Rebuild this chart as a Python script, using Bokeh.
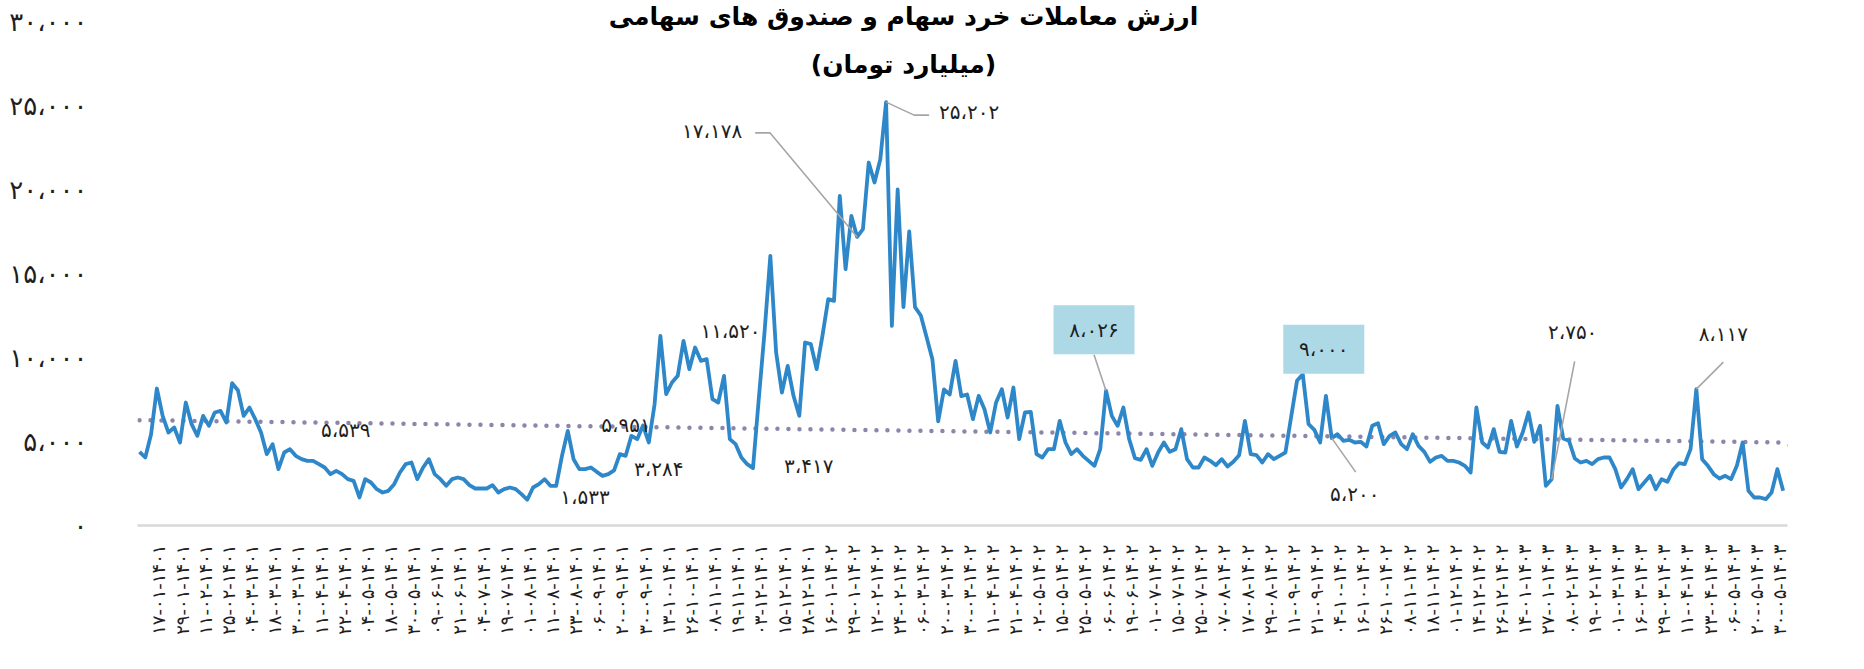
import math
from bokeh.plotting import figure
from bokeh.models import Range1d, FixedTicker, Label
from bokeh.embed import file_html
from bokeh.resources import INLINE

# ---------------- data ----------------
title_line1 = "ارزش معاملات خرد سهام و صندوق های سهامی"
title_line2 = "(میلیارد تومان)"

dates = [
    "1401-01-06", "1401-01-17", "1401-01-29", "1401-02-11", "1401-02-25", "1401-03-04",
    "1401-03-18", "1401-03-30", "1401-04-11", "1401-04-22", "1401-05-04", "1401-05-18",
    "1401-05-30", "1401-06-09", "1401-06-21", "1401-07-04", "1401-07-19", "1401-08-01",
    "1401-08-11", "1401-08-23", "1401-09-06", "1401-09-20", "1401-09-30", "1401-10-13",
    "1401-10-26", "1401-11-08", "1401-11-19", "1401-12-03", "1401-12-15", "1401-12-28",
    "1402-01-16", "1402-01-29", "1402-02-12", "1402-02-24", "1402-03-06", "1402-03-20",
    "1402-03-30", "1402-04-11", "1402-04-21", "1402-05-02", "1402-05-15", "1402-05-25",
    "1402-06-06", "1402-06-19", "1402-07-01", "1402-07-15", "1402-07-25", "1402-08-07",
    "1402-08-17", "1402-08-29", "1402-09-11", "1402-09-21", "1402-10-04", "1402-10-16",
    "1402-10-26", "1402-11-08", "1402-11-18", "1402-12-01", "1402-12-14", "1402-12-26",
    "1403-01-14", "1403-01-27", "1403-02-08", "1403-02-19", "1403-03-01", "1403-03-16",
    "1403-03-29", "1403-04-11", "1403-04-23", "1403-05-06", "1403-05-20", "1403-05-30",
]

values_1401a = [
    4385, 4047, 5436, 8154, 6527, 5535, 5833, 4940, 7321, 6031, 5337, 6527,
    5932, 6726, 6825, 6130, 8472, 8055, 6527, 7023, 6329, 5539, 4246, 4841,
    3353, 4345, 4543, 4147, 3948, 3849, 3849, 3651, 3452, 3055, 3254, 3055,
    2758, 2659, 1667, 2758, 2559, 2163, 1964, 2063, 2460, 3155, 3651, 3750,
    2758, 3452, 3948, 3055, 2758, 2361, 2758, 2857, 2758, 2401, 2202, 2202,
    2202, 2401, 1964, 2163, 2262, 2163, 1865, 1533, 2262, 2460, 2758, 2361,
]
values_1401b = [
    2361, 4147, 5635, 3948, 3353, 3353, 3452, 3194, 2956, 3055, 3284, 4246,
    4147, 5337, 5139, 5951, 4940, 7222, 11289, 7817, 8511, 8908, 10991, 9305,
    10595, 9801, 9900, 7519, 7321, 8908, 5139, 4841, 4047, 3651, 3417, 7519,
    11520, 16051, 10297, 7916, 9503, 7718, 6527, 10892, 10793, 9305, 11289, 13471,
    13372, 19622, 15257, 18431, 17178, 17638, 21606, 20415, 21804, 25202, 11884, 20000,
    13000, 17500, 13000, 12500, 11200, 9900, 6200, 8100, 7800, 9800, 7700, 7800,
]
values_1402 = [
    6329, 7718, 6924, 5535, 7321, 8115, 6428, 8214, 5139, 6726, 6765, 4246,
    4047, 4543, 4543, 6230, 4940, 4246, 4543, 4147, 3849, 3551, 4543, 8026,
    6527, 5932, 7023, 5139, 4008, 3909, 4543, 3551, 4345, 4940, 4385, 4543,
    5734, 3948, 3452, 3452, 4047, 3849, 3591, 3948, 3512, 3790, 4186, 6230,
    4246, 4186, 3750, 4246, 3948, 4147, 4345, 6488, 8611, 9000, 6031, 5694,
    4940, 7718, 5200, 5436, 5039, 5099, 4940, 4980, 4702, 5932, 6091, 4841,
    5337,
]
values_1403 = [
    5535, 4841, 4543, 5436, 4742, 4385, 3790, 4047, 4147, 3849, 3849, 3750,
    3551, 3155, 7023, 4940, 4643, 5734, 4385, 4345, 6230, 4702, 5535, 6726,
    4980, 5932, 2361, 2750, 7123, 5178, 5039, 3988, 3750, 3849, 3651, 3948,
    4047, 4047, 3353, 2262, 2758, 3353, 2163, 2559, 2956, 2163, 2758, 2599,
    3313, 3710, 3651, 4543, 8117, 3948, 3551, 3055, 2797, 2956, 2758, 3551,
    4940, 2063, 1667, 1667, 1567, 1964, 3353, 2075,
]
values = values_1401a + values_1401b + values_1402 + values_1403

trend_values = [6270, 4940]          # linear trend, first and last point
y_ticks = [0, 5000, 10000, 15000, 20000, 25000, 30000]

labelled_points = [129, 124, 108, 106, 82, 67, 21, 87, 206, 244, 269, 284]
boxed_points = [167, 201]

# ---------------- layout ----------------
FIG_W, FIG_H = 1848, 653
B_LEFT, B_RIGHT, B_BOTTOM = 137, 61, 128
FRAME_W = FIG_W - B_LEFT - B_RIGHT
FRAME_H = FIG_H - B_BOTTOM
TICK_PX = 23.15                 # px between category labels
TICK0_FX = 135.3                # fig-x of first label
PTS_PER_TICK = 4
FIRST_PT_FX = 139.0

x_start = (B_LEFT - TICK0_FX) / TICK_PX
x_end = x_start + FRAME_W / TICK_PX
y_start, y_end = 0, 31250
UPP = (y_end - y_start) / FRAME_H   # data units per px (y)

def to_screen(x, y):
    return B_LEFT + (x - x_start) * TICK_PX, (y_end - y) / UPP

def to_data(fx, fy):
    return x_start + (fx - B_LEFT) / TICK_PX, y_end - fy * UPP

x_first = (FIRST_PT_FX - TICK0_FX) / TICK_PX
xs = [x_first + i / PTS_PER_TICK for i in range(len(values))]

FA = str.maketrans("0123456789,", "۰۱۲۳۴۵۶۷۸۹،")
def fa(s):
    return str(s).translate(FA)

def fa_num(v):
    return fa(f"{v:,}")

def date_label(d):
    yy, mm, dd = d.split("-")
    return fa(f"{dd}-{mm}-{yy}")

FONT = "DejaVu Sans"
TXT = "#1e1e1e"

p = figure(width=FIG_W, height=FIG_H, output_backend="svg", toolbar_location=None,
           x_range=Range1d(x_start, x_end), y_range=Range1d(y_start, y_end),
           min_border_left=B_LEFT, min_border_right=B_RIGHT,
           min_border_top=0, min_border_bottom=B_BOTTOM)
p.outline_line_color = None
p.background_fill_color = "white"
p.border_fill_color = "white"
p.xgrid.grid_line_color = None
p.ygrid.grid_line_color = None

# y axis
p.yaxis.ticker = FixedTicker(ticks=y_ticks)
p.yaxis.major_label_overrides = {t: fa_num(t) for t in y_ticks}
p.yaxis.axis_line_color = None
p.yaxis.major_tick_line_color = None
p.yaxis.minor_tick_line_color = None
p.yaxis.major_label_standoff = 44
p.yaxis.major_label_text_font = FONT
p.yaxis.major_label_text_font_size = "26px"
p.yaxis.major_label_text_color = TXT
p.yaxis.major_label_text_baseline = "alphabetic"

# x axis
tick_pos = list(range(len(dates)))
p.xaxis.ticker = FixedTicker(ticks=tick_pos)
p.xaxis.major_label_overrides = {k: date_label(d) for k, d in zip(tick_pos, dates)}
p.xaxis.major_label_orientation = math.pi / 2
p.xaxis.axis_line_color = "#d9d9d9"
p.xaxis.axis_line_width = 2.5
p.xaxis.major_tick_line_color = None
p.xaxis.minor_tick_line_color = None
p.xaxis.major_tick_out = 0
p.xaxis.major_label_standoff = 19
p.xaxis.major_label_text_font = FONT
p.xaxis.major_label_text_font_size = "18px"
p.xaxis.major_label_text_color = TXT

# trend line (dotted)
p.line([xs[0], xs[-1]], trend_values, line_color="#8c86aa", line_width=4.5,
       line_dash="0 11", line_cap="round")

# main series
p.line(xs, values, line_color="#2d87c8", line_width=3.8, line_join="round")

# annotation layout (px offsets from the point, y downwards)
label_layout = {
    129: dict(anchor=(53, 10), align="left", leader=[(0, 0), (28, 13), (43, 13)]),
    124: dict(anchor=(-115, -106), align="right", leader=[(0, 0), (-87, -104), (-102, -104)]),
    108: dict(anchor=(-4, -1), align="right", leader=None),
    106: dict(anchor=(31, -2), align="left", leader=None),
    82: dict(anchor=(20, -1), align="left", leader=None),
    67: dict(anchor=(33, -3), align="left", leader=None),
    21: dict(anchor=(60, -2), align="left", leader=None),
    87: dict(anchor=(-17, -1), align="center", leader=None),
    206: dict(anchor=(23, 56), align="center", leader=[(0, 0), (24, 34)]),
    244: dict(anchor=(21, -147), align="center", leader=[(0, 0), (23, -118)]),
    269: dict(anchor=(27, -55), align="center", leader=[(0, 0), (27, -27)]),
    284: dict(anchor=(3, -41), align="left", leader=None),
}
box_layout = {
    167: dict(center=(-12, -61), size=(81, 49), leader=[(0, 0), (-12, -36)]),
    201: dict(center=(21, -25), size=(81, 49), leader=None),
}

lead_x, lead_y = [], []
for idx in labelled_points + boxed_points:
    lay = label_layout.get(idx) or box_layout.get(idx)
    if lay["leader"]:
        px, py = to_screen(xs[idx], values[idx])
        pts = [to_data(px + dx, py + dy) for dx, dy in lay["leader"]]
        lead_x.append([q[0] for q in pts])
        lead_y.append([q[1] for q in pts])
p.multi_line(lead_x, lead_y, line_color="#a6a6a6", line_width=1.6)

# boxes
bx, by = [], []
for idx in boxed_points:
    lay = box_layout[idx]
    px, py = to_screen(xs[idx], values[idx])
    cx, cy = to_data(px + lay["center"][0], py + lay["center"][1])
    bx.append(cx)
    by.append(cy)
p.rect(x=bx, y=by, width=81, height=49, width_units="screen", height_units="screen",
       fill_color="#add8e6", line_color=None)
for idx, cx, cy in zip(boxed_points, bx, by):
    p.add_layout(Label(x=cx, y=cy, text=fa_num(values[idx]), text_align="center",
                       text_baseline="middle", text_font=FONT, text_font_size="20px",
                       text_color=TXT))

for idx in labelled_points:
    lay = label_layout[idx]
    px, py = to_screen(xs[idx], values[idx])
    lx, ly = to_data(px + lay["anchor"][0], py + lay["anchor"][1])
    p.add_layout(Label(x=lx, y=ly, text=fa_num(values[idx]), text_align=lay["align"],
                       text_baseline="middle", text_font=FONT, text_font_size="20px",
                       text_color=TXT))

# titles
t1x, t1y = to_data(903, 16)
t2x, t2y = to_data(903, 64)
p.add_layout(Label(x=t1x, y=t1y, text=title_line1, text_align="center", text_baseline="middle",
                   text_font=FONT, text_font_size="25px", text_font_style="bold", text_color="black"))
p.add_layout(Label(x=t2x, y=t2y, text=title_line2, text_align="center", text_baseline="middle",
                   text_font=FONT, text_font_size="25px", text_font_style="bold", text_color="black"))

open("out.html", "w").write(file_html(p, INLINE))
